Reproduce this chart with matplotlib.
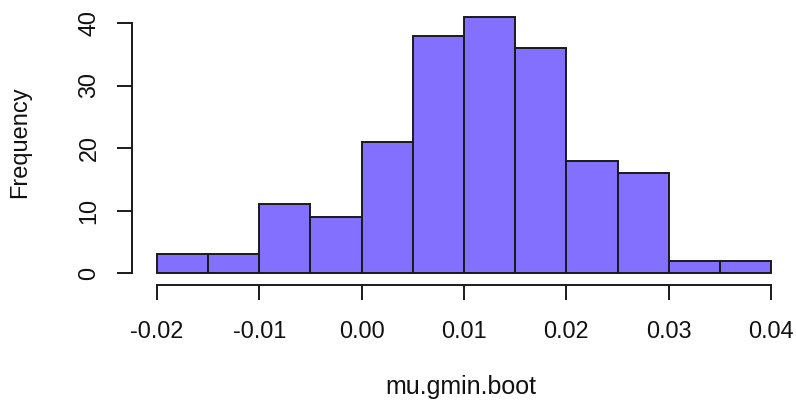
import matplotlib

matplotlib.use("Agg")
import matplotlib.pyplot as plt
import numpy as np

# bin edges of width 0.005 and the counts in each bin
bin_edges = [-0.020, -0.015, -0.010, -0.005, 0.000, 0.005, 0.010,
             0.015, 0.020, 0.025, 0.030, 0.035, 0.040]
counts = [3, 3, 11, 9, 21, 38, 41, 36, 18, 16, 2, 2]
x_ticks = [-0.02, -0.01, 0.00, 0.01, 0.02, 0.03, 0.04]
x_tick_labels = ["-0.02", "-0.01", "0.00", "0.01", "0.02", "0.03", "0.04"]
y_ticks = [0, 10, 20, 30, 40]

plt.rcParams.update({"font.family": ["Liberation Sans", "DejaVu Sans"]})

W, H = 796, 409
fig = plt.figure(figsize=(W / 100, H / 100), dpi=100)
ax = fig.add_axes([132.4 / W, (H - 285) / H, 663.2 / W, 278.5 / H])

edges = np.array(bin_edges)
ax.bar(edges[:-1], counts, width=np.diff(edges), align="edge",
       color="#8470FF", edgecolor="#1a1a1a", linewidth=1.4)

ax.set_xlim(-0.0224, 0.0424)
ax.set_ylim(-1.92, 42.64)

for side in ("top", "right"):
    ax.spines[side].set_visible(False)
ax.spines["left"].set_bounds(0, 40)
ax.spines["bottom"].set_bounds(-0.02, 0.04)
for side in ("left", "bottom"):
    ax.spines[side].set_linewidth(1.4)
    ax.spines[side].set_color("#1a1a1a")

ax.set_xticks(x_ticks)
ax.set_xticklabels(x_tick_labels)
ax.set_yticks(y_ticks)
ax.set_yticklabels([str(v) for v in y_ticks], rotation=90, va="center")
ax.tick_params(axis="both", direction="out", length=11, width=1.4,
               color="#1a1a1a", labelsize=16.8, labelcolor="#111111")
ax.tick_params(axis="x", pad=14)
ax.tick_params(axis="y", pad=12)

fig.text(461 / W, 1 - 387 / H, "mu.gmin.boot",
         ha="center", va="center", fontsize=18, color="#111111")
fig.text(20 / W, 1 - 142 / H, "Frequency", rotation=90,
         ha="center", va="center", fontsize=17, color="#111111")

fig.savefig("out.png", dpi=100)
